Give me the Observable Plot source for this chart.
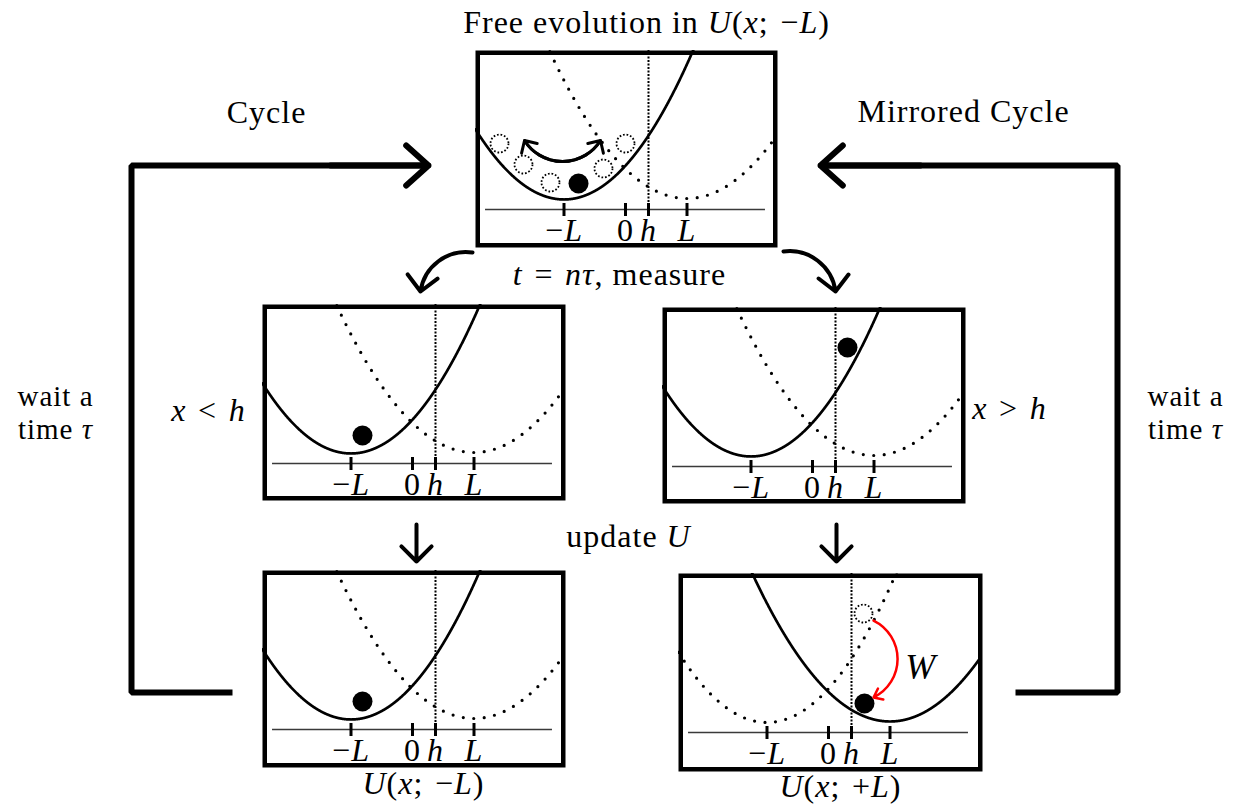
<!DOCTYPE html>
<html>
<head>
<meta charset="utf-8">
<script src="https://cdn.jsdelivr.net/npm/d3@7"></script>
<script src="https://cdn.jsdelivr.net/npm/@observablehq/plot@0.6"></script>
<style>
  body { margin: 0; background: #fff; }
  #root { position: relative; width: 1234px; height: 805px; overflow: hidden; }
  #root svg { position: absolute; overflow: visible; }
</style>
</head>
<body>
<div id="root"></div>
<script>
const FONT = "Liberation Serif";

// ---------- panel data (page layout + physics values in units of L) ----------
const PX = 61.5;          // pixels per unit L inside a panel
const X0 = 150;           // pixel offset of x = 0 from panel left
const AXIS = 159;         // pixel offset of U = 0 axis from panel top

const panelIds     = ["top", "midLeft", "midRight", "botLeft", "botRight"];
const panelLeft    = [475, 262, 662, 262, 678];
const panelTop     = [50, 304, 307, 570, 573];
const panelWidth   = [302, 303, 303, 303, 304];
const panelHeight  = [197, 196, 196, 197, 198];
const solidCenter  = [-1, -1, -1, -1, 1];
const dottedCenter = [1, 1, 1, 1, -1];

// potential wells U(x; c) = k (x - c)^2 + floor
const wellCenters = [-1, 1];
const wellCurv    = [0.55, 0.48];
const wellFloor   = [0.163, 0.179];

const tickPos    = [-1, 0, 0.374, 1];
const tickLabels = ["−*L*", "0", "*h*", "*L*"];
const axisExtent = [-2.276, 2.276];

// particle (filled) in each panel
const ballX = [-0.764, -0.813, 0.569, -0.813, 0.585];
const ballY = [0.423, 0.455, 1.935, 0.455, 0.472];

// ghost positions (dotted circles)
const ghostTopX = [-2.049, -1.659, -1.220, -0.358, 0.0];
const ghostTopY = [1.073, 0.732, 0.439, 0.667, 1.073];
const ghostBotRightX = [0.569];
const ghostBotRightY = [1.935];

// oscillation double-arrow in top panel
const oscArrow = [{x1: -1.642, y1: 1.122, x2: -0.407, y2: 1.122}];
// work arrow in bottom-right panel
const workArrow = [{x1: 0.732, y1: 1.821, x2: 0.732, y2: 0.569}];
const workLabel = [{x: 1.50, y: 1.06, text: "*W*"}];

// ---------- outer diagram data (page pixels) ----------
const loopPoints = [
  {loop: "cycle", x: 232, y: 692}, {loop: "cycle", x: 131, y: 692},
  {loop: "cycle", x: 131, y: 165}, {loop: "cycle", x: 428, y: 165},
  {loop: "mirror", x: 1015, y: 692}, {loop: "mirror", x: 1117, y: 692},
  {loop: "mirror", x: 1117, y: 165}, {loop: "mirror", x: 820, y: 165}
];
const loopHeads = [
  {x1: 330, y1: 165, x2: 428, y2: 165},
  {x1: 920, y1: 165, x2: 820, y2: 165}
];
const branchLeft  = [{x1: 472, y1: 252, x2: 420, y2: 291}];
const branchRight = [{x1: 783, y1: 251, x2: 835, y2: 291}];
const downArrows  = [
  {x1: 416, y1: 470, x2: 416, y2: 561},
  {x1: 836, y1: 470, x2: 836, y2: 561}
];

const labelText = [
  "Free evolution in *U*(*x*;\u2004−*L*)",
  "Cycle",
  "Mirrored Cycle",
  "*t*\u2004=\u2004*nτ*, measure",
  "*x*\u2004<\u2004*h*",
  "*x*\u2004>\u2004*h*",
  "update *U*",
  "*U*(*x*;\u2004−*L*)",
  "*U*(*x*;\u2004+*L*)"
];
const labelX = [646, 266, 963, 619, 208, 1009, 628, 423, 840];
const labelY = [22, 112, 111, 274, 410, 408, 536, 783, 786];

const waitText = ["wait a", "time *τ*", "wait a", "time *τ*"];
const waitX = [55, 55, 1185, 1185];
const waitY = [396, 429, 396, 429];

// ---------- helpers ----------
function italicize(svg) {
  const walker = document.createTreeWalker(svg, NodeFilter.SHOW_TEXT);
  const nodes = [];
  while (walker.nextNode()) if (walker.currentNode.nodeValue.includes("*")) nodes.push(walker.currentNode);
  for (const node of nodes) {
    const parts = node.nodeValue.split("*");
    const frag = document.createDocumentFragment();
    parts.forEach((p, i) => {
      if (!p) return;
      if (i % 2) {
        const t = document.createElementNS("http://www.w3.org/2000/svg", "tspan");
        t.setAttribute("font-style", "italic");
        t.textContent = p;
        frag.appendChild(t);
      } else frag.appendChild(document.createTextNode(p));
    });
    node.parentNode.replaceChild(frag, node);
  }
  return svg;
}

const root = document.getElementById("root");
const svgStyle = {fontFamily: FONT, background: "white", color: "black", letterSpacing: "1px"};

// ---------- background diagram ----------
const labels = labelText.map((t, i) => ({text: t, x: labelX[i], y: labelY[i]}));
const waits = waitText.map((t, i) => ({text: t, x: waitX[i], y: waitY[i]}));
const main = Plot.plot({
  width: 1234, height: 805, margin: 0,
  x: {domain: [0, 1234], range: [0, 1234], axis: null},
  y: {domain: [0, 805], range: [0, 805], axis: null},
  style: svgStyle,
  marks: [
    Plot.line(loopPoints, {x: "x", y: "y", z: "loop", stroke: "black", strokeWidth: 6, strokeLinejoin: "miter", strokeLinecap: "butt"}),
    Plot.arrow(loopHeads, {x1: "x1", y1: "y1", x2: "x2", y2: "y2", stroke: "black", strokeWidth: 6, headLength: 7.5, headAngle: 84}),
    Plot.arrow(branchLeft, {x1: "x1", y1: "y1", x2: "x2", y2: "y2", bend: -45, stroke: "black", strokeWidth: 4, headLength: 8, headAngle: 90}),
    Plot.arrow(branchRight, {x1: "x1", y1: "y1", x2: "x2", y2: "y2", bend: 45, stroke: "black", strokeWidth: 4, headLength: 8, headAngle: 90}),
    Plot.arrow(downArrows, {x1: "x1", y1: "y1", x2: "x2", y2: "y2", insetStart: 54, stroke: "black", strokeWidth: 4, headLength: 8, headAngle: 90}),
    Plot.text(labels, {x: "x", y: "y", text: "text", fontSize: 32, fontFamily: FONT, fill: "black"}),
    Plot.text(waits, {x: "x", y: "y", text: "text", fontSize: 29, fontFamily: FONT, fill: "black"})
  ]
});
main.style.left = "0px";
main.style.top = "0px";
root.appendChild(italicize(main));

// ---------- panels ----------
panelIds.forEach((id, i) => {
  const w = panelWidth[i], h = panelHeight[i];
  const xd = [-X0 / PX, (w - X0) / PX];
  const yd = [-(h - AXIS) / PX, AXIS / PX];
  const xs = d3.range(xd[0], xd[1] + 0.004, 0.004);
  const well = c => {
    const j = wellCenters.indexOf(c);
    return xs.map(x => ({x, y: wellCurv[j] * (x - c) ** 2 + wellFloor[j]}))
             .filter(d => d.y < yd[1] + 0.3);
  };
  const marks = [
    Plot.line(well(dottedCenter[i]), {x: "x", y: "y", stroke: "black", strokeWidth: 3.2, strokeDasharray: "0,10.5", strokeLinecap: "round", clip: true}),
    Plot.ruleX([tickPos[2]], {y1: 0, y2: yd[1], stroke: "black", strokeWidth: 2, strokeDasharray: "2,1.5"}),
    Plot.ruleY([0], {x1: axisExtent[0], x2: axisExtent[1], stroke: "#3a3a3a", strokeWidth: 1.3}),
    Plot.line(well(solidCenter[i]), {x: "x", y: "y", stroke: "black", strokeWidth: 2.7, clip: true}),
    Plot.ruleX(tickPos, {y1: -7 / PX, y2: 6 / PX, stroke: "black", strokeWidth: 3}),
    Plot.text(tickLabels, {x: tickPos, y: -21 / PX, text: d => d, fontSize: 32, fontFamily: FONT, fill: "black"}),
    Plot.dot([0], {x: [ballX[i]], y: [ballY[i]], r: 10, fill: "black"})
  ];
  if (id === "top") {
    marks.push(
      Plot.dot(ghostTopX, {x: ghostTopX, y: ghostTopY, r: 9, stroke: "black", strokeWidth: 1.8, strokeDasharray: "1.7,1.9", fill: "none"}),
      Plot.arrow(oscArrow, {x1: "x1", y1: "y1", x2: "x2", y2: "y2", bend: -58, stroke: "black", strokeWidth: 3, headLength: 6.5, headAngle: 90}),
      Plot.arrow(oscArrow, {x1: "x2", y1: "y2", x2: "x1", y2: "y1", bend: 58, stroke: "black", strokeWidth: 3, headLength: 6.5, headAngle: 90})
    );
  }
  if (id === "botRight") {
    marks.push(
      Plot.dot(ghostBotRightX, {x: ghostBotRightX, y: ghostBotRightY, r: 9, stroke: "black", strokeWidth: 1.8, strokeDasharray: "1.7,1.9", fill: "none"}),
      Plot.arrow(workArrow, {x1: "x1", y1: "y1", x2: "x2", y2: "y2", bend: 64, stroke: "red", strokeWidth: 2.5, headLength: 6, headAngle: 75}),
      Plot.text(workLabel, {x: "x", y: "y", text: "text", fontSize: 36, fontFamily: FONT, fill: "black"})
    );
  }
  marks.push(Plot.frame({stroke: "black", strokeWidth: 4.5, inset: 2.25}));
  const svg = Plot.plot({
    width: w, height: h, margin: 0,
    x: {domain: xd, axis: null},
    y: {domain: yd, axis: null},
    style: svgStyle,
    marks
  });
  svg.style.left = panelLeft[i] + "px";
  svg.style.top = panelTop[i] + "px";
  root.appendChild(italicize(svg));
});
</script>
</body>
</html>
